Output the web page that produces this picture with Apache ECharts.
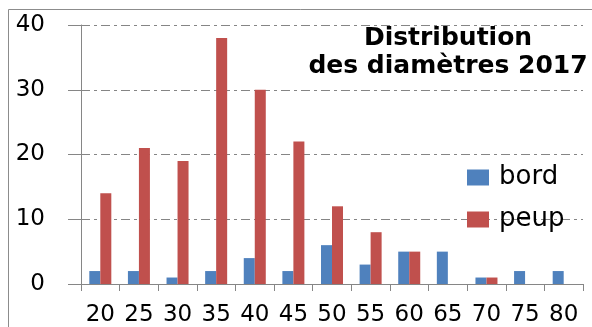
<!DOCTYPE html>
<html>
<head>
<meta charset="utf-8">
<script src="https://cdn.jsdelivr.net/npm/echarts@6/dist/echarts.min.js"></script>
<style>
  html, body { margin: 0; padding: 0; background: #ffffff; }
  #chart { width: 592px; height: 327px; }
</style>
</head>
<body>
<div id="chart"></div>
<script>
// Diameter classes (cm)
const diameters = ['20', '25', '30', '35', '40', '45', '50', '55', '60', '65', '70', '75', '80'];
// Tree counts per class
const bord = [2, 2, 1, 2, 4, 2, 6, 3, 5, 5, 1, 2, 2];
const peup = [14, 21, 19, 38, 30, 22, 12, 8, 5, 0, 1, 0, 0];

const seriesNames = ['bord', 'peup'];
const titleLines = ['Distribution', 'des diamètres 2017'];

const chart = echarts.init(document.getElementById('chart'), null, { renderer: 'canvas' });

const axisGrey = '#868686';

chart.setOption({
  backgroundColor: '#ffffff',
  animation: false,
  graphic: [
    {
      type: 'rect',
      shape: { x: 8.5, y: 9.5, width: 800, height: 600 },
      style: { fill: 'none', stroke: '#8c8c8c', lineWidth: 1 },
      silent: true,
      z: -1
    }
  ],
  title: {
    text: titleLines.join('\n'),
    left: 443,
    top: 19,
    textAlign: 'center',
    textStyle: {
      fontFamily: 'DejaVu Sans',
      fontWeight: 'bold',
      fontSize: 25,
      lineHeight: 28,
      color: '#000000'
    }
  },
  legend: {
    data: seriesNames,
    orient: 'vertical',
    left: 462,
    top: 159,
    padding: 5,
    icon: 'rect',
    itemWidth: 22,
    itemHeight: 16,
    itemGap: 15,
    textStyle: {
      fontFamily: 'DejaVu Sans',
      fontSize: 26,
      lineHeight: 27,
      color: '#000000',
      padding: [0, 0, 0, 5]
    }
  },
  grid: {
    left: 81,
    right: 9,
    top: 25,
    bottom: 43,
    containLabel: false
  },
  xAxis: {
    type: 'category',
    data: diameters,
    boundaryGap: true,
    axisLine: { lineStyle: { color: axisGrey, width: 1 } },
    axisTick: { show: true, alignWithLabel: false, length: 7, lineStyle: { color: axisGrey } },
    axisLabel: {
      interval: 0,
      margin: 20,
      fontFamily: 'DejaVu Sans',
      fontSize: 23,
      color: '#000000'
    },
    splitLine: { show: false }
  },
  yAxis: {
    type: 'value',
    min: 0,
    max: 40,
    interval: 10,
    axisLine: { show: true, lineStyle: { color: axisGrey, width: 1 } },
    axisTick: { show: true, length: 13, lineStyle: { color: axisGrey } },
    axisLabel: {
      margin: 36,
      fontFamily: 'DejaVu Sans',
      fontSize: 23,
      color: '#000000'
    },
    splitLine: {
      show: true,
      lineStyle: { color: '#858585', width: 1, type: [9, 4, 3, 4] }
    }
  },
  series: [
    {
      name: seriesNames[0],
      type: 'bar',
      data: bord,
      barGap: '0%',
      barCategoryGap: '43%',
      itemStyle: { color: '#4f81bd' }
    },
    {
      name: seriesNames[1],
      type: 'bar',
      data: peup,
      barGap: '0%',
      barCategoryGap: '43%',
      itemStyle: { color: '#c0504d' }
    }
  ]
});
</script>
</body>
</html>
